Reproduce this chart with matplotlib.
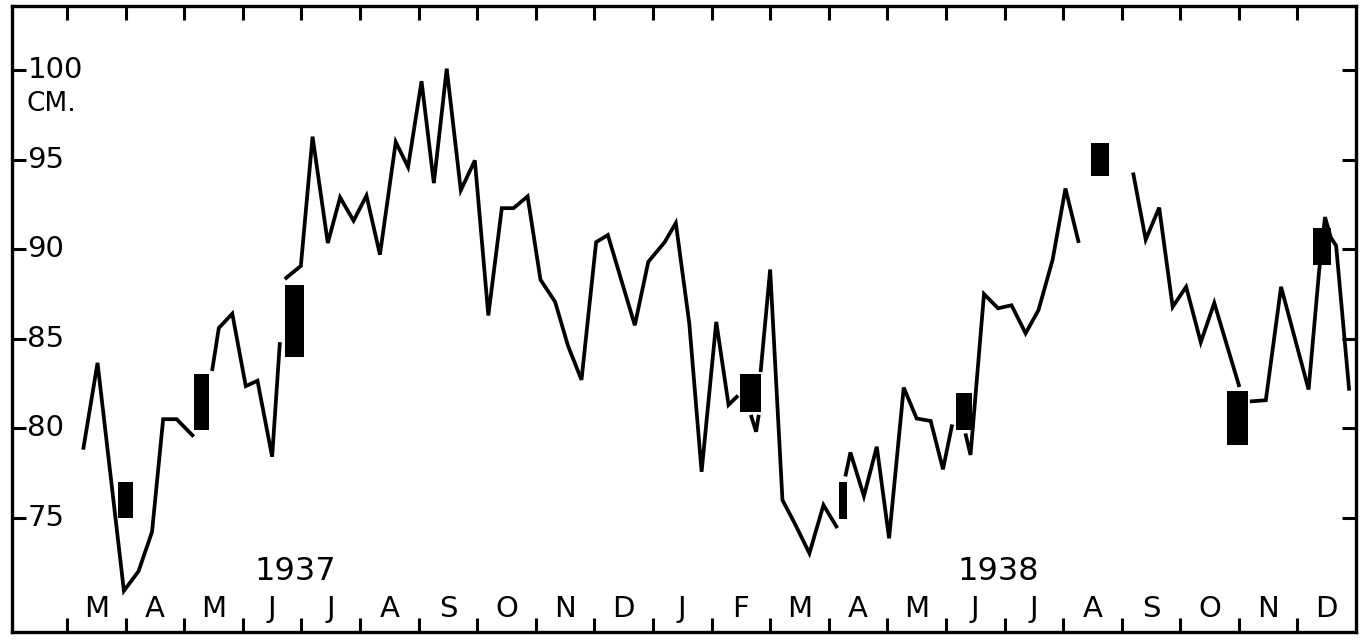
import numpy as np
import matplotlib
matplotlib.use("Agg")
import matplotlib.pyplot as plt
import matplotlib.transforms as mtransforms

# Pegel (cm) – Zeit in Monaten ab 1. März 1937; nan = Lücke in der Kurve
zeit = [0.28, 0.52, 0.97, 1.22, 1.45, 1.64, 1.87, 2.14, np.nan,
        2.48, 2.59, 2.82, 3.05, 3.25, 3.50, 3.63, np.nan,
        3.74, 3.99, 4.19, 4.45, 4.66, 4.89, 5.11, 5.34, 5.61, 5.82, 6.05, 6.26,
        6.48, 6.72, 6.96, 7.19, 7.42, 7.62, 7.86, 8.08, 8.33, 8.55, 8.78, 9.03,
        9.23, 9.69, 9.92, 10.20, 10.39, 10.62, 10.83, 11.08, 11.29, 11.43, np.nan,
        11.68, 11.76, 11.80, np.nan,
        11.84, 12.00, 12.21, 12.42, 12.67, 12.91, 13.13, np.nan,
        13.29, 13.37, 13.60, 13.82, 14.03, 14.28, 14.50, 14.74, 14.95, 15.10, np.nan,
        15.34, 15.42, 15.65, 15.89, 16.12, 16.36, 16.58, 16.82, 17.04, 17.26, np.nan,
        18.20, 18.41, 18.64, 18.87, 19.10, 19.35, 19.58, 20.00, np.nan,
        20.22, 20.46, 20.72, 21.19, 21.37, 21.47, 21.57, 21.66, 21.88]
pegel = [78.9, 83.65, 70.9, 72.0, 74.2, 80.5, 80.5, 79.6, np.nan,
         83.3, 85.6, 86.4, 82.35, 82.65, 78.4, 84.7, np.nan,
         88.4, 89.07, 96.3, 90.35, 92.9, 91.6, 93.0, 89.7, 96.0, 94.6, 99.4, 93.7,
         100.1, 93.3, 94.97, 86.3, 92.3, 92.3, 92.96, 88.3, 87.06, 84.6, 82.7, 90.4,
         90.8, 85.75, 89.3, 90.4, 91.47, 85.85, 77.56, 85.94, 81.3, 81.75, np.nan,
         80.64, 79.8, 80.64, np.nan,
         83.24, 88.87, 75.98, 74.67, 73.0, 75.7, 74.5, np.nan,
         77.4, 78.64, 76.2, 78.96, 73.84, 82.27, 80.54, 80.4, 77.7, 80.1, np.nan,
         79.6, 78.5, 87.5, 86.7, 86.87, 85.3, 86.6, 89.4, 93.4, 90.46, np.nan,
         94.19, 90.54, 92.33, 86.78, 87.9, 84.8, 87.0, 82.4, np.nan,
         81.5, 81.56, 87.9, 82.16, 88.8, 91.8, 90.65, 90.2, 82.2]

# schwarze Balken (Zeitraum und Pegelbereich)
balken_start = [0.875, 2.17, 3.72, 11.49, 13.18, 15.18, 17.47, 19.79, 21.26]
balken_ende = [1.13, 2.42, 4.04, 11.85, 13.32, 15.45, 17.79, 20.16, 21.57]
balken_unten = [74.95, 79.9, 84.0, 80.9, 74.9, 79.9, 94.08, 79.05, 89.1]
balken_oben = [77.0, 83.0, 88.0, 83.0, 76.97, 81.97, 95.94, 82.08, 91.2]

monate = ['M', 'A', 'M', 'J', 'J', 'A', 'S', 'O', 'N', 'D',
          'J', 'F', 'M', 'A', 'M', 'J', 'J', 'A', 'S', 'O', 'N', 'D']
jahre = ['1937', '1938']
jahr_pos = [3.89, 15.9]
y_ticks = [75, 80, 85, 90, 95, 100]

fig = plt.figure(figsize=(13.63, 6.4), dpi=100)
ax = fig.add_axes([0.0088, 0.0125, 0.9861, 0.978])

ax.plot(zeit, pegel, color='black', lw=2.7, solid_joinstyle='miter')

mitte = [(a + b) / 2 for a, b in zip(balken_start, balken_ende)]
breite = [b - a for a, b in zip(balken_start, balken_ende)]
hoehe = [o - u for u, o in zip(balken_unten, balken_oben)]
ax.bar(mitte, hoehe, width=breite, bottom=balken_unten, color='black', zorder=3)

ax.set_xlim(-0.94, 22)
ax.set_ylim(68.6, 103.6)

for s in ax.spines.values():
    s.set_linewidth(2.4)

ax.set_xticks(range(0, 22))
ax.set_yticks(y_ticks)
ax.tick_params(axis='both', direction='in', length=10, width=2.2,
               top=True, bottom=True, left=True, right=True,
               labelbottom=False, labelleft=False)

trans = mtransforms.blended_transform_factory(ax.transData, ax.transAxes)
for i, m in enumerate(monate):
    ax.text(i + 0.5, 0.036, m, transform=trans, ha='center', va='center',
            fontsize=21, family='DejaVu Sans')

for j, p in zip(jahre, jahr_pos):
    ax.text(p, 72.0, j, ha='center', va='center', fontsize=23, family='DejaVu Sans')

trans_y = mtransforms.blended_transform_factory(ax.transAxes, ax.transData)
for v in y_ticks:
    ax.text(0.0115, v, str(v), transform=trans_y, ha='left', va='center',
            fontsize=21, family='DejaVu Sans')
ax.text(0.0105, 98.1, 'CM.', transform=trans_y, ha='left', va='center',
        fontsize=19, family='DejaVu Sans')

fig.savefig('out.png', dpi=100)
